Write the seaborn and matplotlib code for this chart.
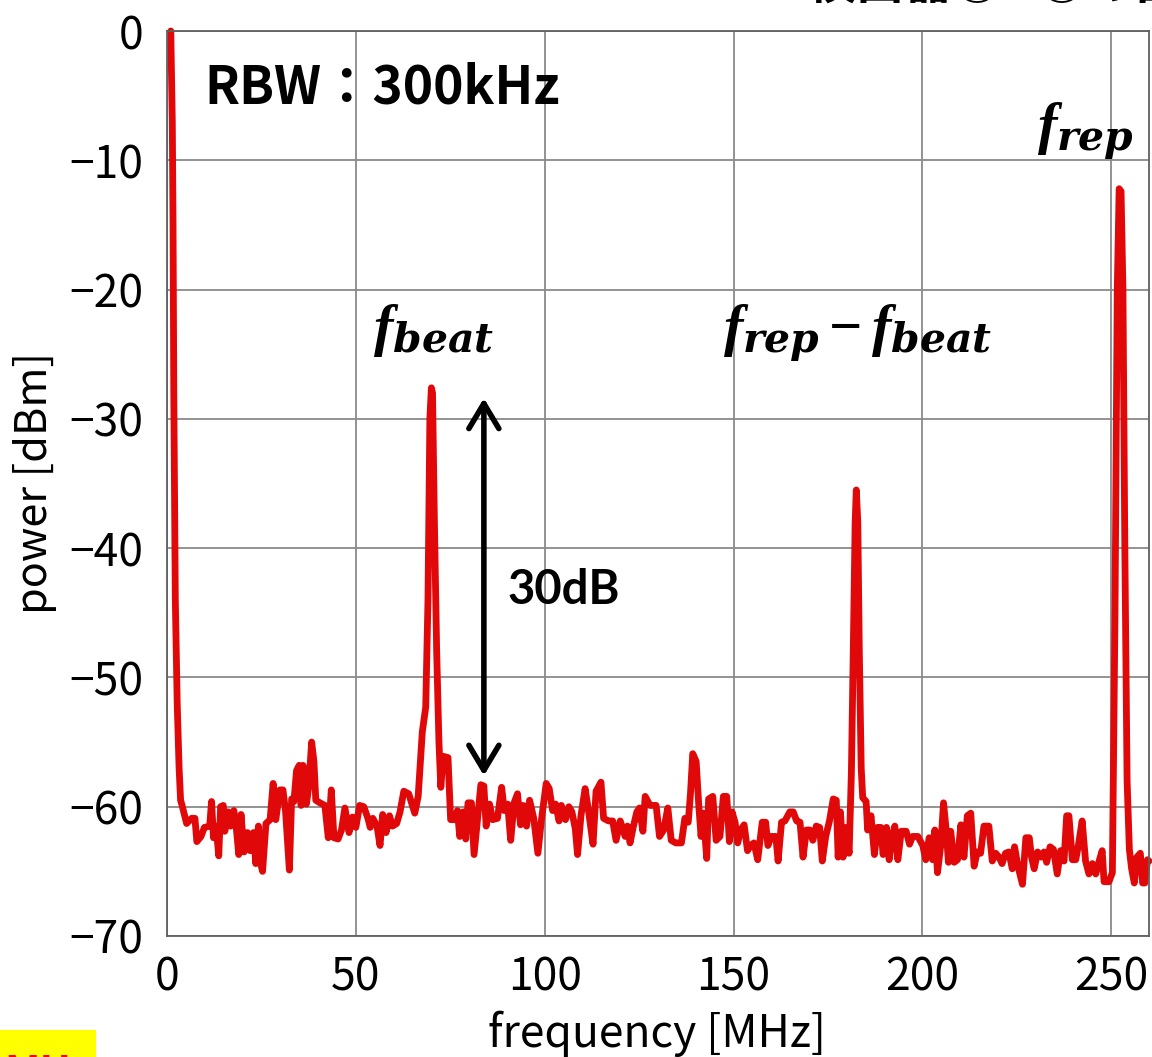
import matplotlib
matplotlib.use("Agg")
import matplotlib.pyplot as plt
from matplotlib.patches import Rectangle
import seaborn as sns
import pandas as pd

# ---- data ----
freq_mhz = [1.0, 1.4, 1.6, 1.8, 2.2, 2.7, 3.2, 3.6,
            3.9, 5.2, 6.5, 7.4, 7.9, 9.0, 9.9, 11.3, 11.8, 12.3, 13.0, 13.7, 14.2, 14.9, 15.3, 16.2,
            16.8, 17.7, 18.4, 19.0, 19.6, 20.4, 21.3, 22.0, 22.9, 23.5, 24.2, 24.8, 25.3, 26.2, 27.3,
            28.1, 28.8, 29.9, 30.7, 31.4, 32.4, 33.0, 33.6, 34.3, 35.0, 35.5, 36.0, 36.9, 37.5, 38.3,
            38.9, 39.4, 40.5, 41.8, 42.7, 43.5, 44.2, 45.3, 46.2, 47.1, 48.2, 49.1, 50.0, 51.0, 52.1,
            53.2, 53.8, 54.5, 55.6, 56.4, 57.1, 58.0, 58.9, 59.7, 60.8, 61.7, 62.7, 64.0, 65.6, 66.5,
            67.6, 68.5, 69.1, 69.6, 70.0, 70.3, 70.8, 71.4, 72.0, 72.5, 73.1, 74.4, 75.1, 76.2, 76.9,
            77.5, 78.4, 79.1, 79.7, 80.6, 81.3, 82.2, 83.1, 83.9, 84.5, 85.4, 86.2, 87.5, 88.6, 89.3,
            90.2, 91.0, 91.9, 92.8, 93.6, 94.3, 95.2, 96.0, 97.1, 98.2, 99.1, 100.4, 101.2, 102.1,
            102.9, 103.8, 104.4, 105.5, 106.4, 107.2, 108.1, 108.7, 109.6, 110.7, 111.6, 112.8, 113.6,
            114.9, 115.6, 116.9, 118.0, 118.9, 120.0, 121.3, 121.9, 122.6, 123.5, 124.4, 125.1, 126.0,
            126.6, 127.9, 128.6, 129.5, 130.4, 131.5, 132.6, 133.5, 134.7, 136.2, 137.1, 138.0, 138.6,
            139.2, 140.1, 140.8, 141.4, 142.0, 142.9, 143.4, 144.5, 145.4, 146.4, 147.3, 148.2, 148.9,
            149.6, 150.4, 151.1, 151.9, 152.8, 153.7, 154.5, 155.4, 156.4, 157.6, 158.5, 159.1, 160.0,
            161.2, 161.8, 162.7, 163.6, 164.9, 165.8, 166.7, 167.6, 168.4, 169.3, 170.2, 171.0, 171.9,
            172.8, 173.5, 174.4, 175.4, 176.4, 177.2, 177.7, 178.3, 179.0, 179.8, 180.6, 181.2, 181.7,
            182.2, 182.5, 182.9, 183.3, 183.8, 184.2, 185.1, 185.5, 186.4, 187.3, 188.1, 189.0, 189.6,
            190.5, 191.2, 192.1, 192.7, 193.5, 194.4, 195.7, 196.6, 197.4, 198.8, 200.1, 200.9, 201.8,
            202.7, 203.3, 204.0, 204.9, 205.6, 206.3, 206.9, 207.5, 208.4, 209.3, 210.2, 211.0, 211.9,
            212.8, 213.7, 214.5, 215.4, 216.3, 217.6, 218.5, 219.4, 220.3, 221.1, 222.0, 222.9, 223.8,
            224.4, 225.3, 226.5, 227.4, 228.3, 228.9, 229.6, 230.5, 231.4, 232.2, 232.9, 233.8, 234.7,
            235.7, 236.6, 237.5, 238.2, 238.8, 239.7, 240.6, 241.3, 242.3, 243.2, 244.1, 245.0, 245.9,
            246.7, 247.6, 248.1, 249.4, 250.3, 251.0, 251.6, 252.1, 252.6, 253.1, 253.6, 254.2, 254.8,
            255.4, 256.1, 256.8, 257.7, 258.3, 258.9, 259.6, 260.0]

power_dbm = [0.0, -7.0, -15.0, -28.0, -44.0, -52.0, -57.0, -59.5,
             -59.8, -61.3, -60.9, -60.9, -62.7, -62.3, -61.6, -61.5, -59.6, -62.4, -61.5, -63.8, -60.0, -59.9, -61.9, -60.4,
             -61.5, -60.3, -61.8, -63.7, -60.6, -63.5, -62.0, -63.4, -62.0, -64.4, -61.5, -64.4, -65.0, -61.3, -61.0,
             -58.2, -61.0, -58.7, -58.7, -60.4, -64.9, -59.4, -59.6, -57.2, -56.8, -59.9, -56.8, -59.8, -58.5, -55.0,
             -56.5, -59.5, -59.7, -59.9, -62.4, -58.7, -62.4, -62.5, -61.8, -60.1, -62.0, -60.8, -61.6, -59.9, -60.0,
             -60.9, -61.6, -60.9, -61.5, -63.0, -60.6, -62.0, -60.7, -61.5, -61.3, -60.4, -58.8, -59.0, -60.5, -59.2,
             -54.2, -52.3, -44.0, -30.0, -27.6, -28.0, -38.0, -48.0, -55.0, -58.5, -56.1, -56.2, -61.0, -61.0, -60.3,
             -62.3, -60.4, -62.5, -59.7, -59.7, -63.7, -61.0, -58.3, -58.4, -61.5, -59.8, -61.0, -60.9, -58.5, -60.3,
             -59.8, -62.6, -59.7, -59.0, -61.4, -59.9, -61.5, -59.5, -60.9, -63.6, -61.1, -58.2, -58.6, -60.3,
             -59.8, -61.1, -59.9, -61.0, -60.0, -60.4, -61.7, -63.7, -60.7, -58.6, -60.3, -62.9, -58.8,
             -58.1, -60.9, -61.1, -61.1, -62.6, -61.1, -62.3, -61.5, -62.8, -61.5, -60.4, -60.1, -61.9,
             -59.2, -59.9, -59.9, -59.9, -62.3, -61.8, -60.1, -62.6, -62.8, -62.8, -60.9, -61.2, -59.0,
             -55.9, -56.5, -59.9, -62.3, -60.5, -64.0, -59.4, -59.2, -62.6, -62.3, -59.2, -59.2, -62.7,
             -60.4, -61.2, -62.8, -61.8, -61.4, -63.4, -63.0, -62.8, -64.1, -61.2, -61.2, -63.0, -62.3,
             -62.3, -64.2, -61.2, -61.1, -60.4, -60.4, -61.1, -61.2, -63.9, -61.8, -61.8, -62.6, -61.5,
             -61.6, -64.2, -62.3, -61.1, -59.4, -59.5, -63.9, -60.4, -63.9, -61.6, -63.6, -57.4, -48.0,
             -38.0, -35.5, -38.0, -48.0, -57.0, -59.3, -59.6, -61.8, -60.7, -63.7, -61.6, -61.6, -63.7,
             -61.6, -64.1, -62.2, -61.5, -64.1, -61.9, -61.9, -62.9, -62.3, -62.3, -63.0, -64.1, -62.4,
             -64.1, -61.8, -65.1, -62.9, -59.7, -61.8, -64.3, -61.9, -64.3, -64.1, -61.4, -63.9, -60.7,
             -60.5, -64.6, -63.5, -63.6, -61.5, -61.5, -64.2, -63.6, -63.9, -64.4, -63.6, -63.5, -64.8,
             -63.1, -64.6, -66.0, -62.4, -62.4, -63.9, -64.8, -63.5, -63.9, -63.5, -64.3, -63.1, -63.3,
             -65.2, -63.4, -64.2, -60.7, -60.7, -64.1, -64.1, -63.0, -61.1, -64.2, -65.2, -64.4, -65.2,
             -64.3, -63.4, -65.8, -65.8, -65.1, -45.0, -20.0, -12.2, -12.4, -20.0, -40.0, -58.0, -63.3,
             -64.8, -65.9, -63.9, -63.6, -65.9, -65.9, -64.1, -64.2]

x_ticks = [0, 50, 100, 150, 200, 250]
y_ticks = [-70, -60, -50, -40, -30, -20, -10, 0]
x_label = "frequency [MHz]"
y_label = "power [dBm]"

df = pd.DataFrame({"freq": freq_mhz, "power": power_dbm})

sns.set_theme(style="white")
plt.rcParams["font.family"] = ["Noto Sans CJK JP", "DejaVu Sans"]
plt.rcParams["text.color"] = "black"
plt.rcParams["axes.labelcolor"] = "black"
plt.rcParams["mathtext.fontset"] = "custom"
plt.rcParams["mathtext.it"] = "Liberation Serif:italic:bold"
plt.rcParams["mathtext.rm"] = "Liberation Serif:bold"
plt.rcParams["mathtext.bf"] = "Liberation Serif:bold"
plt.rcParams["mathtext.sf"] = "DejaVu Serif:italic:bold"

W, H = 1152, 1057
fig = plt.figure(figsize=(W / 100, H / 100), dpi=100)
fig.patch.set_facecolor("white")
ax = fig.add_axes([167 / W, 1 - 936 / H, (1149 - 167) / W, (936 - 31) / H])

sns.lineplot(data=df, x="freq", y="power", ax=ax, color="#E00808", linewidth=4.9,
             estimator=None, sort=False)
for ln in ax.lines:
    ln.set_clip_on(False)

ax.set_xlim(0, 260)
ax.set_ylim(-70, 0)
ax.set_xticks(x_ticks)
ax.set_yticks(y_ticks)
ax.grid(True, color="#8a8a8a", linewidth=1.3)
ax.set_axisbelow(True)
for s in ax.spines.values():
    s.set_color("#606060")
    s.set_linewidth(1.3)
ax.tick_params(axis="both", length=0, labelsize=32, colors="black")
ax.tick_params(axis="y", pad=17)
ax.tick_params(axis="x", pad=13)

ax.set_xlabel(x_label, fontsize=32, color="black")
ax.set_ylabel(y_label, fontsize=31, color="black")
ax.xaxis.set_label_coords(0.499, -0.082)
ax.yaxis.set_label_coords(-0.112, 0.50)

# annotations
ax.text(10.0, -5.6, "RBW：300kHz", fontsize=37, fontweight="bold", ha="left", va="baseline",
        color="black")
ax.text(70.5, -24.3, r"$f_{\mathsf{beat}}$", fontsize=42, ha="center", va="baseline",
        color="black")
ax.text(182.8, -24.3, r"$f_{\mathsf{rep}}-f_{\mathsf{beat}}$", fontsize=42, ha="center",
        va="baseline", color="black")
ax.text(243.1, -8.7, r"$f_{\mathsf{rep}}$", fontsize=42, ha="center", va="baseline",
        color="black")
ax.annotate("", xy=(83.9, -28.4), xytext=(83.9, -57.6),
            arrowprops=dict(arrowstyle="<->,head_length=1.5,head_width=0.9", lw=4,
                            color="black", shrinkA=0, shrinkB=0))
ax.text(90.2, -43.2, "30dB", fontsize=34, fontweight="bold", ha="left", va="center",
        family=["Lato", "DejaVu Sans"], color="black")

# partially visible items at the figure edges (cut off in the reference too)
fig.text(808 / W, 1 - 9 / H, "検出器①&②の出力", fontsize=35, fontweight="bold",
         ha="left", va="bottom", color="black")
fig.patches.append(Rectangle((0, 0), 96 / W, 27 / H, transform=fig.transFigure,
                             facecolor="#FFFF00", edgecolor="none", zorder=0))
fig.text(4 / W, 4 / H, "MHz", fontsize=30, fontweight="bold", color="#FF0000",
         ha="left", va="top")

fig.savefig("out.png", dpi=100)
